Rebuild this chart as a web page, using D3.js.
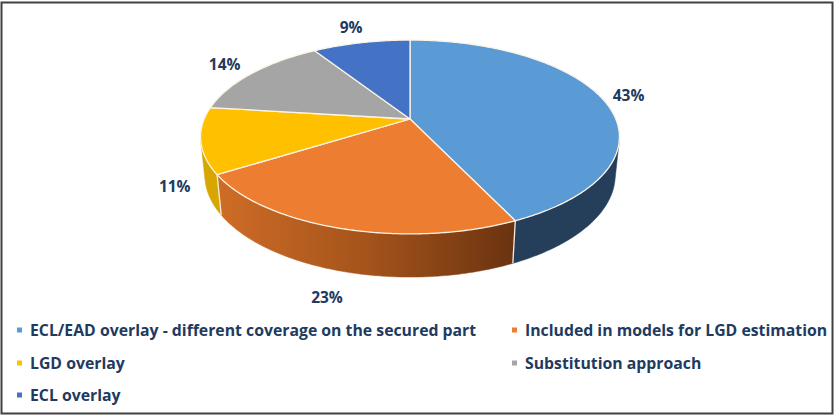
<!DOCTYPE html>
<html>
<head>
<meta charset="utf-8">
<script src="https://cdn.jsdelivr.net/npm/d3@7"></script>
<style>
  html, body { margin: 0; padding: 0; background: #fff; }
  svg { display: block; }
  text { font-family: "Open Sans", Lato, sans-serif; font-weight: 700; }
</style>
</head>
<body>
<svg id="chart" width="834" height="415"></svg>
<script>
// ---- data ----
const categories = [
  "ECL/EAD overlay - different coverage on the secured part",
  "Included in models for LGD estimation",
  "LGD overlay",
  "Substitution approach",
  "ECL overlay"
];
const values = [43, 23, 11, 14, 9];
const labels = ["43%", "23%", "11%", "14%", "9%"];
const topColors = ["#5b9bd5", "#ed7d31", "#ffc000", "#a5a5a5", "#4472c4"];
const wallColors = ["#253f5a", "#c0621f", "#d8a600", "#7c7c7c", "#2f5597"];

// ---- layout / projection ----
const W = 834, H = 415;
const svg = d3.select("#chart");
const cx = 410, cy = 119;         // projected pie centre on top face
const f = 988.6, sA = 0.4548, cA = 0.8906, Dd = 4.804, thick = 0.209;

function proj(theta, r, Y) {
  const X = r * Math.sin(theta), Z = -r * Math.cos(theta);
  const depth = Dd - Z * cA - Y * sA;
  return [cx + f * X / depth, cy + f * (Z * sA - Y * cA) / depth];
}
const visA = Math.acos(-1 / (Dd * cA));
const visB = 2 * Math.PI - visA;

const pie = d3.pie().sort(null).value(d => d)
  .startAngle(0).endAngle(2 * Math.PI);
const arcs = pie(values);

const color = d3.scaleOrdinal().domain(categories).range(topColors);
const wallColor = d3.scaleOrdinal().domain(categories).range(wallColors);

function arcPts(a0, a1, Y) {
  const n = Math.max(2, Math.ceil((a1 - a0) / 0.01));
  return d3.range(n + 1).map(i => proj(a0 + (a1 - a0) * i / n, 1, Y));
}
const line = d3.line();

// frame
svg.append("rect").attr("x", 1.5).attr("y", 2.5).attr("width", 831).attr("height", 411)
  .attr("fill", "none").attr("stroke", "#404040").attr("stroke-width", 2);

// gradient for the orange wall
const defs = svg.append("defs");
const og = defs.append("linearGradient").attr("id", "gOrange")
  .attr("gradientUnits", "userSpaceOnUse").attr("x1", 215).attr("x2", 520).attr("y1", 0).attr("y2", 0);
og.append("stop").attr("offset", 0).attr("stop-color", "#cf6d26");
og.append("stop").attr("offset", 0.5).attr("stop-color", "#a4531b");
og.append("stop").attr("offset", 1).attr("stop-color", "#683210");

// walls
const gWalls = svg.append("g");
arcs.forEach((a, i) => {
  const a0 = Math.max(a.startAngle, visA), a1 = Math.min(a.endAngle, visB);
  if (a1 <= a0) return;
  const top = arcPts(a0, a1, 0);
  const bot = arcPts(a0, a1, -thick).reverse();
  gWalls.append("path")
    .attr("d", line(top.concat(bot)) + "Z")
    .attr("fill", i === 1 ? "url(#gOrange)" : wallColor(categories[i]))
    .attr("stroke", i === 1 ? "url(#gOrange)" : wallColor(categories[i]))
    .attr("stroke-width", 0.5);
});
// wall separators
arcs.forEach(a => {
  const t = a.startAngle;
  if (t > visA && t < visB) {
    gWalls.append("line")
      .attr("x1", proj(t, 1, 0)[0]).attr("y1", proj(t, 1, 0)[1])
      .attr("x2", proj(t, 1, -thick)[0]).attr("y2", proj(t, 1, -thick)[1])
      .attr("stroke", "#f6ecdc").attr("stroke-width", 1.3);
  }
});

// top faces
const gTop = svg.append("g");
arcs.forEach((a, i) => {
  const pts = [[cx, cy]].concat(arcPts(a.startAngle, a.endAngle, 0));
  gTop.append("path")
    .attr("d", line(pts) + "Z")
    .attr("fill", color(categories[i]))
    .attr("stroke", "#fbf3e6").attr("stroke-width", 1.3)
    .attr("stroke-linejoin", "round");
});

// data labels
const refC = [cx, 158];
const gLab = svg.append("g");
arcs.forEach((a, i) => {
  const m = (a.startAngle + a.endAngle) / 2;
  const Z = -Math.cos(m);
  const p = proj(m, 1, Z > 0 ? -thick : 0);
  let dx = p[0] - refC[0], dy = p[1] - refC[1];
  const L = Math.hypot(dx, dy); dx /= L; dy /= L;
  const hw = labels[i].length * 5.6, hh = 6;
  const dist = Math.abs(dx) * hw + Math.abs(dy) * hh + 11;
  gLab.append("text")
    .attr("x", p[0] + dx * dist - 2).attr("y", p[1] + dy * dist + 4)
    .attr("text-anchor", "middle").attr("dominant-baseline", "central")
    .attr("font-size", 15.5).attr("fill", "#213a60")
    .text(labels[i]);
});

// legend
const legX = [17, 512], legY = [330, 363, 395];
const gLeg = svg.append("g");
categories.forEach((c, i) => {
  const x = legX[i % 2], y = legY[Math.floor(i / 2)];
  gLeg.append("rect").attr("x", x).attr("y", y - 2.5).attr("width", 5).attr("height", 5)
    .attr("fill", color(c));
  gLeg.append("text").attr("x", x + 13).attr("y", y)
    .attr("dominant-baseline", "central")
    .attr("font-size", 15.8).attr("fill", "#213a60")
    .text(c);
});
</script>
</body>
</html>
